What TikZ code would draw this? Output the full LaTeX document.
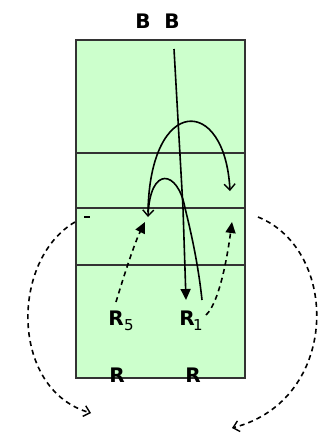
\documentclass[tikz,border=0pt]{standalone}
\usepackage{fontspec}
\setmainfont{DejaVu Sans}
\usetikzlibrary{arrows.meta}
\definecolor{boxgreen}{HTML}{CCFFCC}
\definecolor{boxedge}{HTML}{333333}
\begin{document}
\begin{tikzpicture}[x=1pt,y=-1pt,
  frame/.style={draw=boxedge,line width=1.8pt,fill=boxgreen},
  divider/.style={draw=boxedge,line width=1.5pt},
  solidarc/.style={draw=black,line width=1.6pt},
  dasharc/.style={draw=black,line width=1.6pt,dash pattern=on 5pt off 4pt},
  filltip/.style={-{Triangle[length=11pt,width=10pt]}},
  opentip/.style={-{Straight Barb[length=6pt,width=11pt,line width=1.4pt]}},
  lbl/.style={font=\fontsize{20}{20}\selectfont\bfseries,inner sep=0pt},
  rlbl/.style={font=\fontsize{20}{20}\selectfont\bfseries,inner sep=0pt},
  subl/.style={font=\fontsize{15}{15}\selectfont,inner sep=0pt}]
\useasboundingbox (0,0) rectangle (327,434);
% box
\path[frame] (76,40) rectangle (245,378);
\path[divider] (76,153) -- (245,153);
\path[divider] (76,208) -- (245,208);
\path[divider] (76,265) -- (245,265);
% labels
\node[lbl] (b1) at (143,21) {B};
\node[lbl] (b2) at (172,21) {B};
\node[rlbl,anchor=base] (r5) at (116,325) {R};
\node[subl,anchor=base west] (r5s) at (124,330) {5};
\node[rlbl,anchor=base] (r1) at (187,325) {R};
\node[subl,anchor=base west] (r1s) at (193,330) {1};
\node[rlbl,anchor=base] (rb1) at (117,382) {R};
\node[rlbl,anchor=base] (rb2) at (193,382) {R};
% coordinates
\coordinate (ltop) at (174,49);
\coordinate (lmid) at (183,208);
\coordinate (ltip) at (186,300);
\coordinate (sstart) at (202,300);
\coordinate (scross) at (185,208);
\coordinate (stip) at (148,217);
\coordinate (bstart) at (148,212);
\coordinate (btip) at (230,191);
\coordinate (d5s) at (116,302);
\coordinate (d5t) at (145,222);
\coordinate (d1s) at (206,315);
\coordinate (d1t) at (232,222);
\coordinate (ls) at (75,222);
\coordinate (lt) at (91,413);
\coordinate (rs) at (258,217);
\coordinate (rt) at (232,428);
% solid arrows
\draw[solidarc,filltip] (ltop) -- (lmid) -- (ltip);
\draw[solidarc,opentip] (sstart) .. controls (198,262) and (190,228) .. (scross)
   .. controls (178,170) and (150,165) .. (stip);
\draw[solidarc,opentip] (bstart) .. controls (150,95) and (225,95) .. (btip);
% dashed arrows inside
\draw[dasharc,filltip] (d5s) .. controls (125,272) and (135,242) .. (d5t);
\draw[dasharc,filltip] (d1s) .. controls (220,302) and (228,252) .. (d1t);
% outer dashed arrows
\draw[dasharc,opentip] (ls) .. controls (10,260) and (10,390) .. (lt);
\draw[dasharc,opentip] (rs) .. controls (340,250) and (340,400) .. (rt);
% small marks
\draw[solidarc] (84,217) -- (90,217);
\end{tikzpicture}
\end{document}
